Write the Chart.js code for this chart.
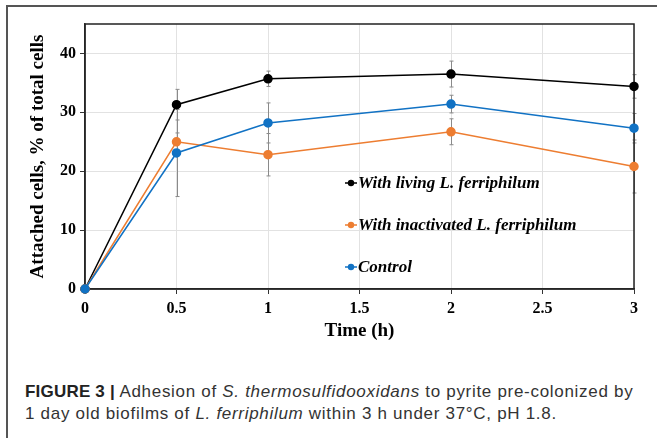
<!DOCTYPE html>
<html>
<head>
<meta charset="utf-8">
<script src="https://cdn.jsdelivr.net/npm/chart.js@4.4.1/dist/chart.umd.min.js"></script>
<style>
  html, body { margin: 0; padding: 0; background: #fff; }
  body { width: 657px; height: 438px; position: relative; overflow: hidden; }
  #frame {
    position: absolute; left: 6px; top: 5px; width: 700px; height: 500px;
    border-left: 2px solid #555; border-top: 2px solid #555;
  }
  #wrap { position: absolute; left: 0; top: 0; width: 657px; height: 360px; }
  #caption {
    position: absolute; left: 25px; top: 381px; width: 630px;
    font-family: "Liberation Sans", Arial, sans-serif; font-size: 17px;
    line-height: 22px; color: #333; letter-spacing: 0.7px; white-space: nowrap;
  }
  #caption b { color: #222; letter-spacing: 0.2px; }
</style>
</head>
<body>
<div id="frame"></div>
<div id="wrap"><canvas id="chart" width="657" height="360"></canvas></div>
<div id="caption"><b>FIGURE 3 |</b> Adhesion of <i>S. thermosulfidooxidans</i> to pyrite pre-colonized by<br>1 day old biofilms of <i>L. ferriphilum</i> within 3 h under 37°C, pH 1.8.</div>
<script>
// data
const times = [0, 0.5, 1, 2, 3];
const livingMean = [0, 31.3, 35.7, 36.5, 34.4];
const livingErr = [0, 2.6, 1.3, 2.2, 2.0];
const inactMean = [0, 25.0, 22.8, 26.7, 20.8];
const inactErr = [0, 1.5, 3.6, 2.2, 4.5];
const controlMean = [0, 23.1, 28.2, 31.4, 27.3];
const controlErr = [0, 7.4, 3.4, 1.5, 2.5];
const yTicks = [0, 10, 20, 30, 40];
const seriesNames = ['With living L. ferriphilum', 'With inactivated L. ferriphilum', 'Control'];
const seriesColors = ['#000000', '#ED7D31', '#1172C4'];

const serif = '"Liberation Serif", "Times New Roman", serif';

function toPoints(means, errs) {
    return times.map((t, i) => ({ x: t, y: means[i], err: errs[i] }));
}

// grey error bars, drawn under the series
const errorBars = {
    id: 'errorBars',
    beforeDatasetsDraw(chart) {
        const ctx = chart.ctx;
        const xs = chart.scales.x, ys = chart.scales.y;
        ctx.save();
        ctx.strokeStyle = '#8a8a8a';
        ctx.lineWidth = 1;
        chart.data.datasets.forEach(ds => {
            ds.data.forEach(p => {
                if (!p.err) return;
                const px = Math.round(xs.getPixelForValue(p.x)) + 0.5;
                const top = ys.getPixelForValue(p.y + p.err);
                const bot = ys.getPixelForValue(p.y - p.err);
                ctx.beginPath();
                ctx.moveTo(px, top); ctx.lineTo(px, bot);
                ctx.moveTo(px - 2, top); ctx.lineTo(px + 2, top);
                ctx.moveTo(px - 2, bot); ctx.lineTo(px + 2, bot);
                ctx.stroke();
            });
        });
        ctx.restore();
    }
};

// box round the plot and legend inside it
const boxAndLegend = {
    id: 'boxAndLegend',
    beforeDatasetsDraw(chart) {
        const ctx = chart.ctx;
        const a = chart.chartArea;
        ctx.save();
        ctx.strokeStyle = '#222';
        ctx.lineWidth = 1.5;
        ctx.strokeRect(a.left, a.top, a.right - a.left, a.bottom - a.top);
        ctx.restore();
    },
    afterDraw(chart) {
        const ctx = chart.ctx;
        const a = chart.chartArea;
        ctx.save();
        const lx = a.left + 260;
        const ly = [a.top + 159, a.top + 201, a.top + 243];
        ctx.font = 'italic bold 17px ' + serif;
        ctx.textBaseline = 'middle';
        chart.data.datasets.forEach((ds, i) => {
            const y = ly[i];
            ctx.strokeStyle = ds.borderColor;
            ctx.lineWidth = 1.5;
            ctx.beginPath();
            ctx.moveTo(lx, y); ctx.lineTo(lx + 12, y);
            ctx.stroke();
            ctx.fillStyle = ds.borderColor;
            ctx.beginPath();
            ctx.arc(lx + 6, y, 3.2, 0, Math.PI * 2);
            ctx.fill();
            ctx.fillStyle = '#000';
            ctx.fillText(ds.label, lx + 13, y + 1);
        });
        ctx.restore();
    }
};

const ctx = document.getElementById('chart').getContext('2d');
new Chart(ctx, {
    type: 'line',
    data: {
        datasets: [
            { label: seriesNames[0], data: toPoints(livingMean, livingErr), order: 2 },
            { label: seriesNames[1], data: toPoints(inactMean, inactErr), order: 1 },
            { label: seriesNames[2], data: toPoints(controlMean, controlErr), order: 0 }
        ].map((ds, i) => Object.assign(ds, {
            borderColor: seriesColors[i],
            backgroundColor: seriesColors[i],
            pointBackgroundColor: seriesColors[i],
            pointBorderColor: seriesColors[i],
            borderWidth: 1.5,
            pointRadius: 4,
            tension: 0,
            fill: false,
            clip: 8
        }))
    },
    options: {
        responsive: false,
        animation: false,
        layout: { padding: { left: 20, top: 24, right: 23, bottom: 11 } },
        plugins: { legend: { display: false }, tooltip: { enabled: false } },
        scales: {
            x: {
                type: 'linear',
                min: 0, max: 3,
                ticks: { stepSize: 0.5, color: '#000', padding: 5, callback: v => String(v),
                         font: { family: serif, size: 16, weight: 'bold' } },
                grid: { color: '#e2e2e2', tickColor: '#333', tickLength: 5, lineWidth: 1 },
                border: { color: '#333', width: 1.5 },
                title: { display: true, text: 'Time (h)', color: '#000', padding: { top: 2, bottom: 7 },
                         font: { family: serif, size: 19, weight: 'bold' } },
                afterFit(s) { s.height = 60; }
            },
            y: {
                min: 0, max: 45,
                afterBuildTicks(s) { s.ticks = yTicks.map(v => ({ value: v })); },
                ticks: { color: '#000', padding: 4, font: { family: serif, size: 16, weight: 'bold' } },
                grid: { color: '#e2e2e2', tickColor: '#333', tickLength: 5, lineWidth: 1 },
                border: { color: '#333', width: 1.5 },
                title: { display: true, text: 'Attached cells, % of total cells', color: '#000',
                         padding: { top: 7, bottom: 4 }, font: { family: serif, size: 19, weight: 'bold' } },
                afterFit(s) { s.width = 65; }
            }
        }
    },
    plugins: [errorBars, boxAndLegend]
});
</script>
</body>
</html>
